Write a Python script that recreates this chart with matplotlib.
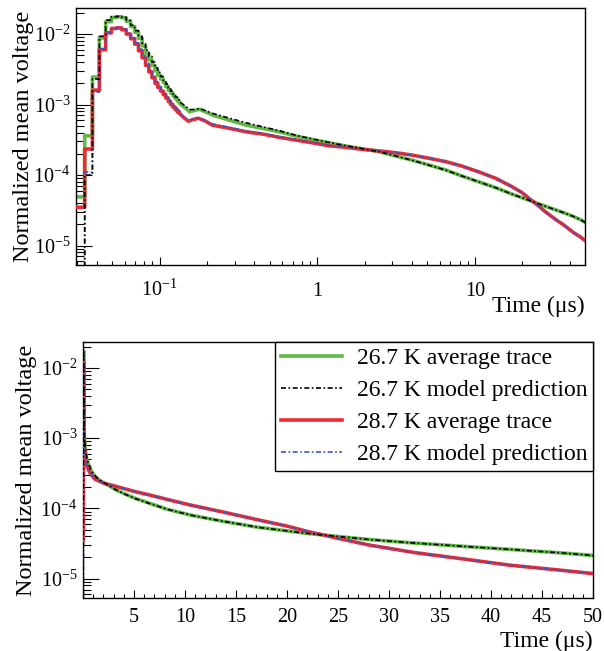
import numpy as np
import matplotlib.pyplot as plt
from matplotlib.ticker import FixedLocator, FixedFormatter, MultipleLocator, LogLocator, NullFormatter

plt.rcParams['font.family'] = ['Liberation Serif', 'DejaVu Serif']
plt.rcParams['mathtext.fontset'] = 'custom'
plt.rcParams['mathtext.rm'] = 'Liberation Serif'
plt.rcParams['mathtext.it'] = 'Liberation Serif:italic'
plt.rcParams['mathtext.bf'] = 'Liberation Serif:bold'

# first samples are binned (4 ns), edges in us
bin_edges = [0.0295, 0.0335, 0.0375, 0.0415, 0.0455, 0.0495, 0.0535, 0.0575, 0.0615,
             0.0655, 0.0695, 0.0735, 0.0775, 0.0815, 0.0855, 0.0895, 0.0935, 0.0975,
             0.1015, 0.1055, 0.1095, 0.1135, 0.1175, 0.1215, 0.1255, 0.1295, 0.1335]

green_bins = [4.9e-5, 3.6e-4, 2.46e-3, 8.8e-3, 0.0150, 0.0172, 0.0176, 0.0170, 0.0152,
              0.0128, 0.0106, 8.7e-3, 6.8e-3, 5.3e-3, 4.3e-3, 3.6e-3, 3.0e-3, 2.6e-3,
              2.3e-3, 2.05e-3, 1.8e-3, 1.6e-3, 1.45e-3, 1.33e-3, 1.22e-3, 1.12e-3]
black_bins = [1e-7, 1.0e-4, 2.3e-3, 9.3e-3, 0.0158, 0.0176, 0.0178, 0.0172, 0.0156,
              0.0133, 0.0112, 9.3e-3, 7.4e-3, 5.9e-3, 4.8e-3, 4.0e-3, 3.3e-3, 2.85e-3,
              2.5e-3, 2.2e-3, 1.95e-3, 1.72e-3, 1.55e-3, 1.4e-3, 1.28e-3, 1.17e-3]
red_bins = [3.5e-5, 2.34e-4, 1.6e-3, 6.0e-3, 0.0104, 0.0120, 0.0122, 0.0115, 0.0100,
            8.6e-3, 7.2e-3, 5.8e-3, 4.6e-3, 3.6e-3, 2.9e-3, 2.4e-3, 2.0e-3, 1.75e-3,
            1.55e-3, 1.38e-3, 1.24e-3, 1.1e-3, 1.0e-3, 9.2e-4, 8.5e-4, 7.9e-4]
blue_bins = [1e-7, 1.1e-4, 1.5e-3, 6.2e-3, 0.0106, 0.0122, 0.0123, 0.0117, 0.0103,
             8.9e-3, 7.5e-3, 6.1e-3, 4.9e-3, 3.85e-3, 3.1e-3, 2.55e-3, 2.12e-3, 1.85e-3,
             1.63e-3, 1.45e-3, 1.3e-3, 1.16e-3, 1.05e-3, 9.6e-4, 8.8e-4, 8.1e-4]

# later samples (us)
t_267 = [0.1335, 0.145, 0.155, 0.165, 0.179, 0.195, 0.2165, 0.2773, 0.3553, 0.4487,
         0.5747, 0.7362, 0.93, 1.191, 1.526, 1.927, 2.468, 3.16, 3.99, 5.12, 6.55,
         8.27, 10.6, 13.6, 17.1, 22.0, 28.1, 32.0, 37.0, 42.0, 46.8, 50.0]
green_v = [1.05e-3, 9.0e-4, 7.9e-4, 8.2e-4, 8.55e-4, 7.9e-4, 7.1e-4, 6.0e-4, 5.1e-4,
           4.6e-4, 4.1e-4, 3.57e-4, 3.2e-4, 2.87e-4, 2.58e-4, 2.36e-4, 2.14e-4, 1.86e-4,
           1.63e-4, 1.39e-4, 1.18e-4, 9.7e-5, 8.0e-5, 6.6e-5, 5.4e-5, 4.4e-5, 3.6e-5,
           3.25e-5, 2.9e-5, 2.6e-5, 2.33e-5, 2.14e-5]
black_v = [1.1e-3, 9.6e-4, 8.5e-4, 8.5e-4, 8.8e-4, 8.2e-4, 7.5e-4, 6.4e-4, 5.5e-4,
           4.85e-4, 4.25e-4, 3.65e-4, 3.25e-4, 2.9e-4, 2.6e-4, 2.37e-4, 2.14e-4, 1.86e-4,
           1.62e-4, 1.38e-4, 1.17e-4, 9.7e-5, 8.0e-5, 6.6e-5, 5.4e-5, 4.4e-5, 3.6e-5,
           3.25e-5, 2.9e-5, 2.6e-5, 2.33e-5, 2.13e-5]

t_287 = [0.1335, 0.142, 0.152, 0.162, 0.176, 0.193, 0.2165, 0.2773, 0.3553, 0.4487,
         0.5747, 0.7362, 0.93, 1.191, 1.526, 1.927, 2.468, 3.16, 3.99, 5.12, 6.55,
         8.27, 10.6, 13.6, 17.1, 20.0, 22.0, 25.0, 28.1, 32.5, 37.0, 41.9, 46.8, 50.0]
red_v = [7.5e-4, 6.6e-4, 5.8e-4, 6.1e-4, 6.4e-4, 5.9e-4, 5.1e-4, 4.6e-4, 4.1e-4,
         3.82e-4, 3.43e-4, 3.13e-4, 2.87e-4, 2.6e-4, 2.47e-4, 2.32e-4, 2.2e-4, 2.07e-4,
         1.92e-4, 1.73e-4, 1.55e-4, 1.34e-4, 1.11e-4, 8.97e-5, 6.9e-5, 5.6e-5, 4.7e-5,
         3.75e-5, 3.0e-5, 2.35e-5, 1.93e-5, 1.55e-5, 1.32e-5, 1.18e-5]
blue_v = [7.7e-4, 6.8e-4, 6.0e-4, 6.2e-4, 6.5e-4, 6.0e-4, 5.3e-4, 4.75e-4, 4.2e-4,
          3.9e-4, 3.5e-4, 3.18e-4, 2.9e-4, 2.62e-4, 2.48e-4, 2.33e-4, 2.2e-4, 2.07e-4,
          1.92e-4, 1.73e-4, 1.55e-4, 1.34e-4, 1.11e-4, 8.9e-5, 6.9e-5, 5.6e-5, 4.7e-5,
          3.75e-5, 3.0e-5, 2.35e-5, 1.92e-5, 1.55e-5, 1.32e-5, 1.18e-5]

labels = ['26.7 K average trace', '26.7 K model prediction',
          '28.7 K average trace', '28.7 K model prediction']


def trace(bins, t_late, v_late):
    # step outline for the binned part, then the later samples
    e = np.array(bin_edges)
    st = np.repeat(e, 2)[1:-1]
    sv = np.repeat(np.array(bins), 2)
    return np.concatenate([st, t_late]), np.concatenate([sv, v_late])


dashdot = (0, (3, 1.5, 1, 1.5))
series = [
    (trace(green_bins, t_267, green_v), dict(color='#5fba45', lw=2.6, ls='-', zorder=2)),
    (trace(black_bins, t_267, black_v), dict(color='black', lw=1.2, ls=dashdot, zorder=5)),
    (trace(red_bins, t_287, red_v), dict(color='#ec2a30', lw=2.6, ls='-', zorder=3)),
    (trace(blue_bins, t_287, blue_v), dict(color='#3a56c0', lw=1.2, ls=dashdot, zorder=4)),
]

W, H = 604, 651
fig = plt.figure(figsize=(W / 100, H / 100), dpi=100)
ax1 = fig.add_axes([76 / W, 1 - 265 / H, (585 - 76) / W, (265 - 8) / H])
ax2 = fig.add_axes([83 / W, 1 - 598 / H, (593 - 83) / W, (598 - 342) / H])

ylo, yhi = 5.3e-6, 0.0234
tick_fs = 14.5
lab_fs = 17

for ax in (ax1, ax2):
    for (t, v), kw in series:
        ax.plot(t, v, **kw)
    ax.set_yscale('log')
    ax.set_ylim(ylo, yhi)
    ax.yaxis.set_major_locator(LogLocator(base=10, numticks=10))
    ax.yaxis.set_minor_locator(LogLocator(base=10, subs=np.arange(2, 10), numticks=20))
    ax.yaxis.set_minor_formatter(NullFormatter())
    ax.tick_params(axis='y', which='major', direction='in', length=11.5, width=0.8,
                   labelsize=tick_fs, pad=4)
    ax.tick_params(axis='y', which='minor', direction='in', length=5.8, width=0.8)
    ax.tick_params(axis='x', which='major', direction='in', length=5.8, width=0.8,
                   labelsize=tick_fs)
    ax.tick_params(axis='x', which='minor', direction='in', length=2.9, width=0.8)
    ax.tick_params(top=False, right=False, which='both')
    for sp in ax.spines.values():
        sp.set_linewidth(1.0)
    ax.set_ylabel('Normalized mean voltage', fontsize=17.5)
    ax.set_xlabel('Time (μs)', fontsize=lab_fs)

# top panel: log time
ax1.set_xscale('log')
ax1.set_xlim(0.0295, 50)
ax1.xaxis.set_major_locator(FixedLocator([0.1, 1, 10]))
ax1.xaxis.set_major_formatter(FixedFormatter([r'$10^{-1}$', '1', '10']))
ax1.xaxis.set_minor_locator(LogLocator(base=10, subs=np.arange(2, 10), numticks=20))
ax1.xaxis.set_minor_formatter(NullFormatter())
ax1.tick_params(axis='x', which='major', pad=22)
for lbl in ax1.get_xticklabels():
    lbl.set_va('baseline')
ax1.yaxis.set_label_coords((34 - 76) / 509, 0.5)
ax1.xaxis.set_label_coords(1.0, (265 - 312) / 257)
ax1.xaxis.label.set_ha('right')
ax1.xaxis.label.set_va('baseline')

# bottom panel: linear time
ax2.set_xlim(0, 50)
ax2.xaxis.set_major_locator(FixedLocator([5, 10, 15, 20, 25, 30, 35, 40, 45, 50]))
ax2.xaxis.set_minor_locator(MultipleLocator(1))
ax2.tick_params(axis='x', which='major', pad=17)
for lbl in ax2.get_xticklabels():
    lbl.set_va('baseline')
ax2.yaxis.set_label_coords((37 - 83) / 510, 0.5)
ax2.xaxis.set_label_coords(1.0, (598 - 647) / 256)
ax2.xaxis.label.set_ha('right')
ax2.xaxis.label.set_va('baseline')

handles = ax2.get_lines()
leg = ax2.legend(handles, labels, loc='upper right', bbox_to_anchor=(1.0, 1.0),
                 borderaxespad=0, fontsize=lab_fs, frameon=True, fancybox=False,
                 edgecolor='black', framealpha=1, handlelength=2.6, handletextpad=0.6,
                 borderpad=0.25, labelspacing=0.44)
leg.get_frame().set_linewidth(1.0)

fig.savefig('out.png', dpi=100)
